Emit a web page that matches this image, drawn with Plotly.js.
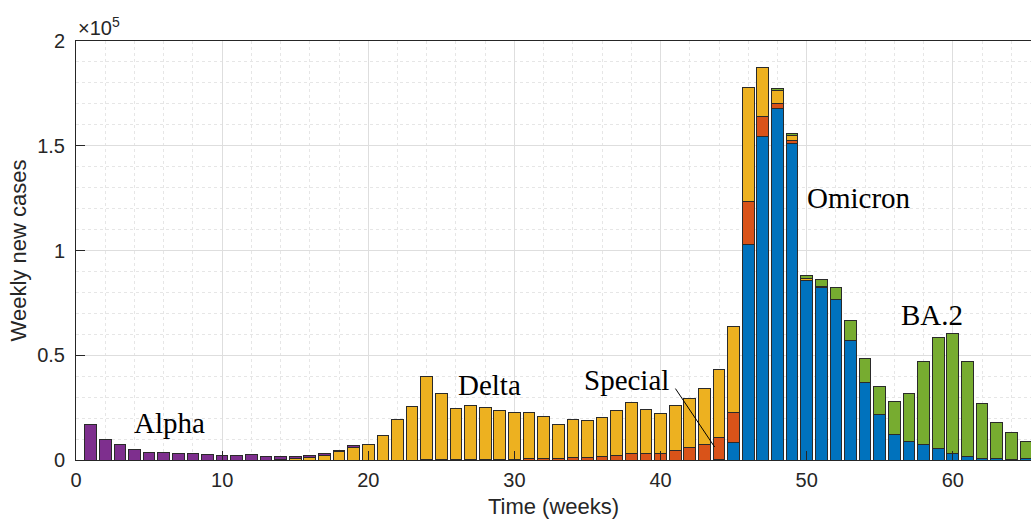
<!DOCTYPE html>
<html>
<head>
<meta charset="utf-8">
<script src="https://cdn.plot.ly/plotly-3.0.1.min.js"></script>
<style>html,body{margin:0;padding:0;background:#fff;}#chart{width:1031px;height:525px;}</style>
</head>
<body>
<div id="chart"></div>
<script>
const weeks = [1,2,3,4,5,6,7,8,9,10,11,12,13,14,15,16,17,18,19,20,21,22,23,24,25,26,27,28,29,30,31,32,33,34,35,36,37,38,39,40,41,42,43,44,45,46,47,48,49,50,51,52,53,54,55,56,57,58,59,60,61,62,63,64,65];

const omicron = [0,0,0,0,0,0,0,0,0,0, 0,0,0,0,0,0,0,0,0,0, 0,0,0,0,0,0,0,0,0,0, 0,0,0,0,0,0,0,0,0,0, 0,0,0,300,8500,103100,154300,167700,151000,85600, 82300,76400,57200,36900,21500,12200,8600,7600,5400,3200, 1700,800,500,300,500];
const special = [0,0,0,0,0,0,0,0,0,0, 0,0,0,0,0,0,0,0,0,0, 0,0,0,200,200,200,200,300,300,300, 500,600,800,1400,1400,1900,2200,3000,3000,3300, 4600,5900,7500,10500,14200,20500,9700,2600,1400,200, 100,0,0,0,0,0,0,0,0,0, 0,0,0,0,0];
const delta = [0,0,0,0,0,0,0,0,0,0, 0,0,0,200,700,1300,2000,4100,5900,7300, 11900,19400,25600,39800,31600,24400,25900,25000,23400,22300, 22200,20200,16200,17700,17500,18300,21200,24400,21200,18700, 21200,23500,26700,32400,41100,54100,23400,6300,2400,600, 200,0,0,0,0,0,0,0,0,0, 0,0,0,0,0];
const alpha = [17000,9900,7600,5100,3800,3800,3200,3200,2700,2100, 2100,2400,1800,1600,1100,700,1000,500,800,300, 0,0,0,0,0,0,0,0,0,0, 0,0,0,0,0,0,0,0,0,0, 0,0,0,0,0,0,0,0,0,0, 0,0,0,0,0,0,0,0,0,0, 0,0,0,0,0];
const ba2 = [0,0,0,0,0,0,0,0,0,0, 0,0,0,0,0,0,0,0,0,0, 0,0,0,0,0,0,0,0,0,0, 0,0,0,0,0,0,0,0,0,0, 0,0,0,0,0,0,0,500,1000,1600, 3400,6000,9500,11500,13700,15600,23200,39500,53000,57000, 45400,26400,17300,12600,8400];

const seriesNames = ['Omicron','Special','Delta','Alpha','BA.2'];
const seriesValues = [omicron, special, delta, alpha, ba2];
const seriesColors = ['#0072BD','#D95319','#EDB120','#7E2F8E','#77AC30'];

const xTickVals = [0,10,20,30,40,50,60];
const yTickVals = [0,50000,100000,150000,200000];
const yTickText = ['0','0.5','1','1.5','2'];

const labelTexts = ['Alpha','Delta','Special','Omicron','BA.2'];

const traces = seriesNames.map((n,i)=>({
  type:'bar', x:weeks, y:seriesValues[i], name:n,
  marker:{color:seriesColors[i], line:{color:'#2a2a2a', width:1}},
  width:0.8, showlegend:false, hoverinfo:'x+y+name'
}));

const tickFont = {family:'Liberation Sans, Arial, sans-serif', size:20, color:'#262626'};
const serif = {family:'Liberation Serif, Times New Roman, serif', size:29, color:'#000'};

const layout = {
  width:1031, height:525,
  margin:{l:76, r:0, t:41, b:65},
  paper_bgcolor:'#fff', plot_bgcolor:'#fff',
  barmode:'stack', bargap:0.2,
  xaxis:{
    range:[0,65.35], tickvals:xTickVals, ticks:'inside', ticklen:9, tickcolor:'#262626',
    showline:true, linecolor:'#262626', linewidth:1, mirror:true,
    showgrid:true, gridcolor:'#dedede', gridwidth:1, zeroline:false,
    minor:{dtick:2, tick0:0, showgrid:true, gridcolor:'#e6e6e6', griddash:'dot', ticks:''},
    tickfont:tickFont, ticklabelstandoff:2,
    title:{text:'Time (weeks)', font:{family:'Liberation Sans, Arial, sans-serif', size:22, color:'#262626'}, standoff:8}
  },
  yaxis:{
    range:[0,200000], tickvals:yTickVals, ticktext:yTickText, ticks:'inside', ticklen:9, tickcolor:'#262626',
    showline:true, linecolor:'#262626', linewidth:1, mirror:true,
    showgrid:true, gridcolor:'#dedede', gridwidth:1, zeroline:false,
    minor:{dtick:10000, tick0:0, showgrid:true, gridcolor:'#e6e6e6', griddash:'dot', ticks:''},
    tickfont:tickFont, ticklabelstandoff:6,
    title:{text:'Weekly new cases', font:{family:'Liberation Sans, Arial, sans-serif', size:22, color:'#262626'}, standoff:4}
  },
  annotations:[
    {xref:'paper', yref:'paper', x:0, y:1, xanchor:'left', yanchor:'bottom', showarrow:false,
     text:'×10<sup>5</sup>', font:{family:'Liberation Sans, Arial, sans-serif', size:20, color:'#262626'}},
    {x:6.4, y:17700, text:labelTexts[0], showarrow:false, font:serif},
    {x:28.3, y:36000, text:labelTexts[1], showarrow:false, font:serif},
    {x:37.7, y:38000, text:labelTexts[2], showarrow:false, font:serif},
    {x:53.6, y:125000, text:labelTexts[3], showarrow:false, font:serif},
    {x:58.6, y:69000, text:labelTexts[4], showarrow:false, font:serif},
    {x:43.7, y:6200, ax:40.95, ay:34800, axref:'x', ayref:'y', text:'', showarrow:true,
     arrowhead:0, arrowwidth:1, arrowcolor:'#000'}
  ]
};

Plotly.newPlot('chart', traces, layout, {displayModeBar:false, staticPlot:true});
</script>
</body>
</html>
